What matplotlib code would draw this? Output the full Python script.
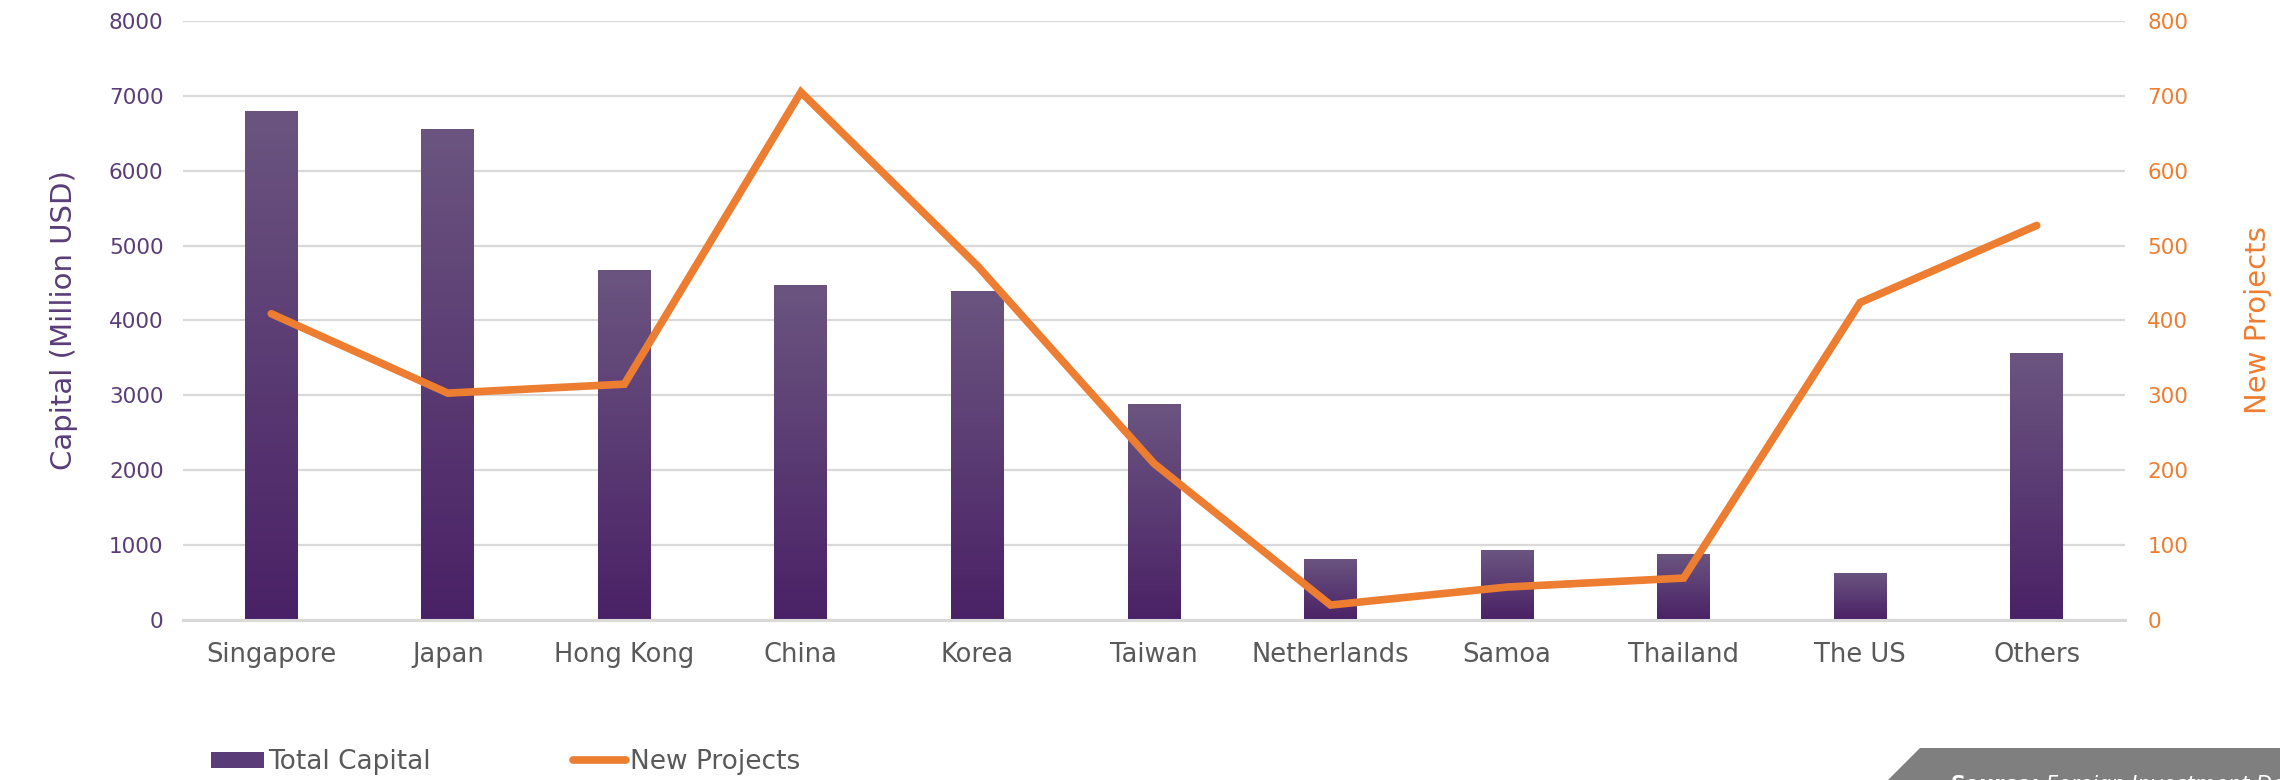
import numpy as np
import matplotlib
matplotlib.use("Agg")
import matplotlib.pyplot as plt
from matplotlib.colors import LinearSegmentedColormap
from matplotlib.patches import Patch, Polygon
from matplotlib.lines import Line2D

# Data
countries = ["Singapore", "Japan", "Hong Kong", "China", "Korea", "Taiwan",
             "Netherlands", "Samoa", "Thailand", "The US", "Others"]
total_capital = [6800, 6560, 4680, 4470, 4400, 2880, 815, 933, 880, 630, 3560]
new_projects = [409, 303, 315, 705, 473, 209, 20, 44, 56, 424, 527]

purple = "#5a3d78"
orange = "#ED7D31"
grey_text = "#595959"
grid_col = "#d9d9d9"

plt.rcParams["font.family"] = ["DejaVu Sans"]

fig = plt.figure(figsize=(22.8, 7.8), dpi=100)
ax = fig.add_axes([183 / 2280, 160 / 780, (2125 - 183) / 2280, (620 - 21) / 780])
ax2 = ax.twinx()

x = np.arange(len(countries))
width = 0.3

# bars with a vertical gradient (lighter at the top)
cmap = LinearSegmentedColormap.from_list("bar", ["#4a2166", "#6b5580"])
grad = np.linspace(0, 1, 256).reshape(-1, 1)
bars = ax.bar(x, total_capital, width=width, color="#4f2a6c", zorder=2)
for b in bars:
    im = ax.imshow(grad, extent=[b.get_x(), b.get_x() + b.get_width(), 0, b.get_height()],
                   origin="lower", aspect="auto", cmap=cmap, zorder=2.1)
    im.set_clip_path(b)

ax2.plot(x, new_projects, color=orange, linewidth=5.5, solid_capstyle="round",
         solid_joinstyle="miter", zorder=3)

ax.set_xlim(-0.5, len(countries) - 0.5)
ax.set_ylim(0, 8000)
ax2.set_ylim(0, 800)
ax.set_yticks(np.arange(0, 8001, 1000))
ax2.set_yticks(np.arange(0, 801, 100))
ax.set_aspect("auto")

ax.yaxis.grid(True, color=grid_col, linewidth=1.6, zorder=0)
ax.set_axisbelow(True)
for s in ["top", "left", "right"]:
    ax.spines[s].set_visible(False)
    ax2.spines[s].set_visible(False)
ax2.spines["bottom"].set_visible(False)
ax.spines["bottom"].set_color(grid_col)
ax.spines["bottom"].set_linewidth(2.2)

ax.set_xticks(x)
ax.set_xticklabels(countries)
ax.tick_params(axis="x", length=0, pad=16, labelsize=18.5, labelcolor=grey_text)
ax.tick_params(axis="y", length=0, pad=14, labelsize=15.5, labelcolor=purple)
ax2.tick_params(axis="y", length=0, pad=16, labelsize=15.5, labelcolor=orange)

ax.set_ylabel("Capital (Million USD)", fontsize=21, color=purple, labelpad=22)
ax2.set_ylabel("New Projects", fontsize=21, color=orange, labelpad=40)

handles = [Patch(facecolor="#5a3d78", edgecolor="none", label="Total Capital"),
           Line2D([0], [0], color=orange, linewidth=5.5, solid_capstyle="round",
                  label="New Projects")]
fig.legend(handles=handles, loc="center left", bbox_to_anchor=(211 / 2280, 18 / 780),
           ncol=2, frameon=False, fontsize=19, labelcolor=grey_text,
           handlelength=2.0, handleheight=0.55, handletextpad=0.15,
           columnspacing=5.4, borderpad=0, borderaxespad=0)

# source banner in the bottom right corner, cut off by the figure edge
banner = Polygon([(1888 / 2280, 0), (1920 / 2280, 32 / 780), (1, 32 / 780), (1, 0)],
                 closed=True, transform=fig.transFigure, facecolor="#7f7f7f",
                 edgecolor="none")
fig.patches.append(banner)
fig.text(1950 / 2280, 5 / 780, "Source:", color="white", fontsize=15,
         fontweight="bold", va="top", ha="left")
fig.text(2046 / 2280, 5 / 780, "Foreign Investment Department", color="white",
         fontsize=15, style="italic", va="top", ha="left")

fig.savefig("out.png", dpi=100)
